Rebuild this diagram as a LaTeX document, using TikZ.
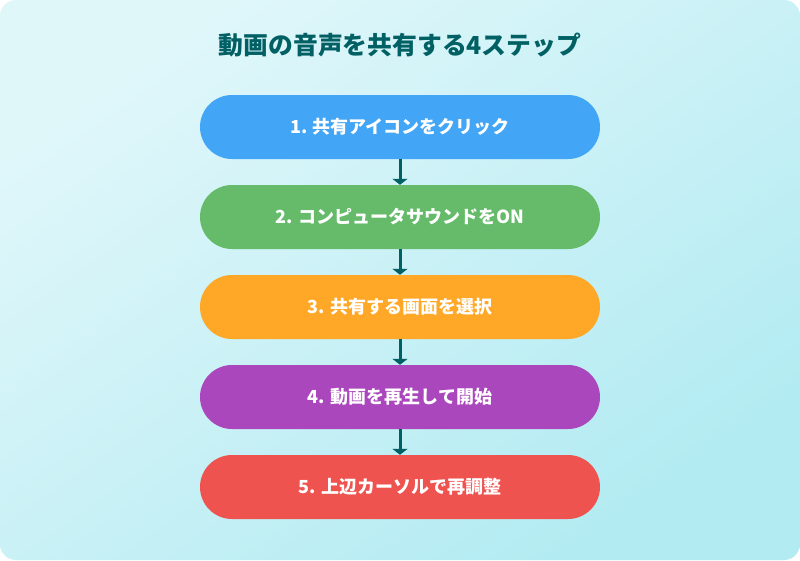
\documentclass[tikz,border=0pt]{standalone}
\usepackage{fontspec}
\newfontfamily\jp{Noto Sans CJK JP}
\usetikzlibrary{arrows.meta,shadings}
\definecolor{bgA}{HTML}{E0F7FA}
\definecolor{bgB}{HTML}{B2EBF2}
\definecolor{teal}{HTML}{006064}
\definecolor{cA}{HTML}{42A5F5}
\definecolor{cB}{HTML}{66BB6A}
\definecolor{cC}{HTML}{FFA726}
\definecolor{cD}{HTML}{AB47BC}
\definecolor{cE}{HTML}{EF5350}
\tikzset{
  stepbox/.style={rounded corners=32pt, minimum width=400pt, minimum height=64pt, inner sep=0pt,
    text=white, font=\jp\bfseries\fontsize{18pt}{20pt}\selectfont},
  flow/.style={draw=teal, line width=3pt, -{Triangle[width=15pt,length=6pt]}}
}
\begin{document}
\begin{tikzpicture}[x=1pt,y=-1pt]
\useasboundingbox (0,0) rectangle (800,560);
\shade[rounded corners=16pt, top color=bgA, bottom color=bgB, shading angle=35] (0,0) rectangle (800,560);
\node[text=teal, font=\jp\bfseries\fontsize{24.8pt}{28pt}\selectfont] (title) at (400,45) {動画の音声を共有する4ステップ};
\node[stepbox, fill=cA] (s1) at (400,127) {1. 共有アイコンをクリック};
\node[stepbox, fill=cB] (s2) at (400,217) {2. コンピュータサウンドをON};
\node[stepbox, fill=cC] (s3) at (400,307) {3. 共有する画面を選択};
\node[stepbox, fill=cD] (s4) at (400,397) {4. 動画を再生して開始};
\node[stepbox, fill=cE] (s5) at (400,487) {5. 上辺カーソルで再調整};
\draw[flow] (s1.south) -- (s2.north);
\draw[flow] (s2.south) -- (s3.north);
\draw[flow] (s3.south) -- (s4.north);
\draw[flow] (s4.south) -- (s5.north);
\end{tikzpicture}
\end{document}
